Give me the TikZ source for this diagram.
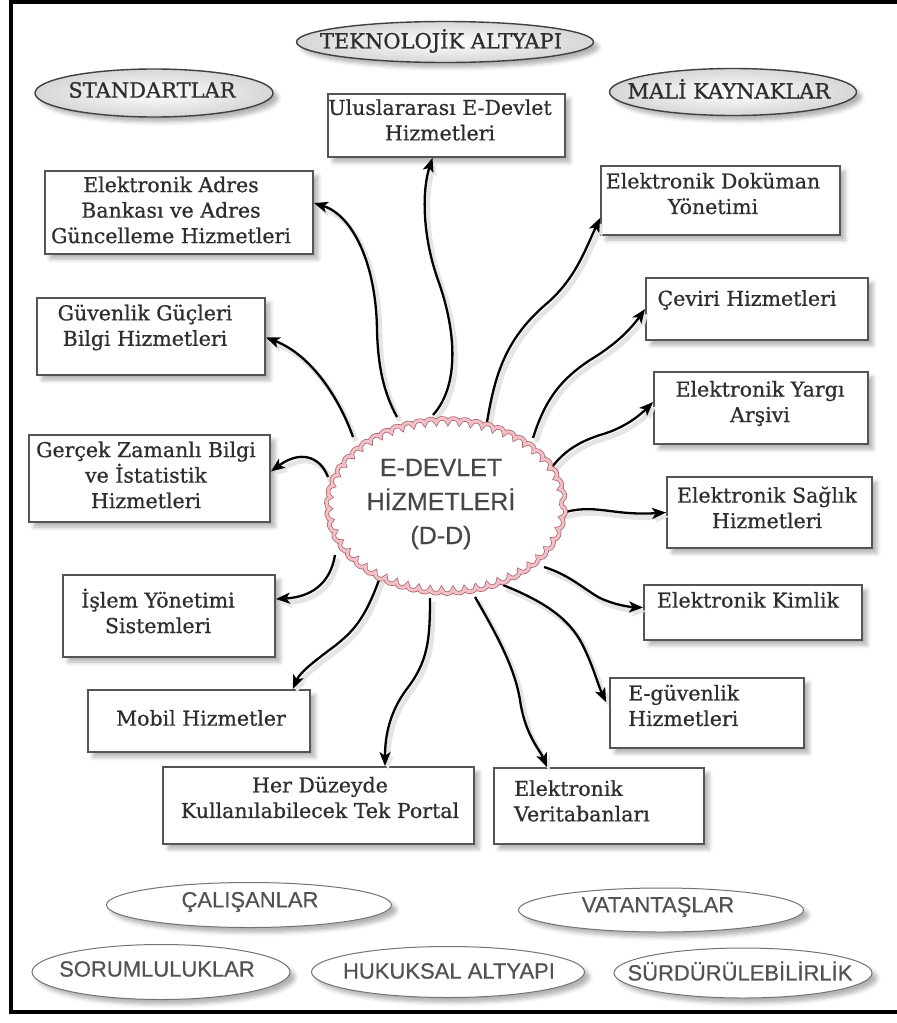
\documentclass[tikz,border=0pt]{standalone}
\usepackage{fontspec}
\setmainfont{DejaVu Serif}
\newfontfamily\boxserif{DejaVu Serif}[FakeBold=0.7]
\newfontfamily\ovalserif{DejaVu Serif}[FakeBold=0.9]
\newfontfamily\ovalsans{Liberation Sans}[FakeBold=0.5]
\usetikzlibrary{shapes.geometric,arrows.meta,calc,decorations.pathmorphing,shadows.blur}

\definecolor{boxline}{HTML}{555555}
\definecolor{textdark}{HTML}{2E2E2E}
\definecolor{cloudrim}{HTML}{A85A64}
\definecolor{cloudband}{HTML}{F0C0C6}

\tikzset{
  softshadow/.style={blur shadow={shadow blur radius=4pt, shadow xshift=5pt, shadow yshift=-5pt, shadow opacity=30}},
  svcbox/.style={draw=boxline, line width=1.8pt, fill=white, softshadow},
  svctext/.style={font=\boxserif\fontsize{20.5}{25.5}\selectfont, text=textdark, align=center, inner sep=0pt},
  topoval/.style={ellipse, draw=black!75, line width=1.4pt, inner color=white, outer color=gray!32, softshadow},
  toptext/.style={font=\ovalserif\fontsize{21}{25}\selectfont, text=textdark, inner sep=0pt},
  lowoval/.style={ellipse, draw=black!55, line width=1pt, fill=white, softshadow},
  lowtext/.style={font=\ovalsans\fontsize{22}{26}\selectfont, text=black!68, inner sep=0pt},
  cloudtext/.style={font=\ovalsans\fontsize{25}{34}\selectfont, text=black!72, align=center, inner sep=0pt},
  cloudedge/.style={decorate, decoration={bumps, segment length=23pt, amplitude=4.5pt},
    draw=cloudrim, double=cloudband, double distance=3pt, line width=0.7pt, fill=white},
  link/.style={line width=2.3pt, black, -{Stealth[length=14pt,width=11pt,inset=3.5pt]},
    preaction={draw=black!10, line width=5pt, transform canvas={shift={(3pt,-4pt)}}}},
}

\begin{document}
\begin{tikzpicture}[x=1pt,y=-1pt]
\useasboundingbox (0,0) rectangle (897,1023);

% outer frame, open on the right
\draw[line width=4pt] (897,1.5) -- (10.5,1.5) -- (10.5,1012) -- (897,1012);

% top ovals
\node[topoval, minimum width=297pt, minimum height=41pt] (tekno) at (445,42) {};
\node[toptext] (tekno-t) at (441,41) {TEKNOLOJİK ALTYAPI};
\node[topoval, minimum width=238pt, minimum height=48pt] (stand) at (154,93) {};
\node[toptext] (stand-t) at (152,90) {STANDARTLAR};
\node[topoval, minimum width=247pt, minimum height=47pt] (mali) at (733,92) {};
\node[toptext] (mali-t) at (729,89) {MALİ KAYNAKLAR};

% bottom ovals
\node[lowoval, minimum width=285pt, minimum height=45pt] (calis) at (249,905) {};
\node[lowtext] (calis-t) at (250,902) {ÇALIŞANLAR};
\node[lowoval, minimum width=258pt, minimum height=55pt] (sorum) at (161,972) {};
\node[lowtext] (sorum-t) at (157,969) {SORUMLULUKLAR};
\node[lowoval, minimum width=273pt, minimum height=51pt] (hukuk) at (448,972) {};
\node[lowtext] (hukuk-t) at (449,971) {HUKUKSAL ALTYAPI};
\node[lowoval, minimum width=285pt, minimum height=44pt] (vatan) at (661,910) {};
\node[lowtext] (vatan-t) at (658,907) {VATANTAŞLAR};
\node[lowoval, minimum width=258pt, minimum height=50pt] (surdur) at (743,973) {};
\node[lowtext] (surdur-t) at (740,971) {SÜRDÜRÜLEBİLİRLİK};

% service boxes
\node[svcbox, minimum width=237pt, minimum height=63pt] (ulus) at (446.5,125.5) {};
\node[svctext] (ulus-t) at (440,120) {Uluslararası E-Devlet\\Hizmetleri};
\node[svcbox, minimum width=268pt, minimum height=83pt] (adres) at (179,212.5) {};
\node[svctext] (adres-t) at (171,210) {Elektronik Adres\\Bankası ve Adres\\Güncelleme Hizmetleri};
\node[svcbox, minimum width=228pt, minimum height=77pt] (guven) at (151,336.5) {};
\node[svctext] (guven-t) at (145,327.5) {Güvenlik Güçleri\\Bilgi Hizmetleri};
\node[svcbox, minimum width=241pt, minimum height=87pt] (gercek) at (149.5,478.5) {};
\node[svctext] (gercek-t) at (146,475) {Gerçek Zamanlı Bilgi\\ve İstatistik\\Hizmetleri};
\node[svcbox, minimum width=212pt, minimum height=82pt] (islem) at (169,616) {};
\node[svctext] (islem-t) at (158,611) {İşlem Yönetimi\\Sistemleri};
\node[svcbox, minimum width=222pt, minimum height=62pt] (mobil) at (199,721) {};
\node[svctext] (mobil-t) at (201,718) {Mobil Hizmetler};
\node[svcbox, minimum width=311pt, minimum height=77pt] (portal) at (318.5,805.5) {};
\node[svctext] (portal-t) at (320,797.5) {Her Düzeyde\\Kullanılabilecek Tek Portal};
\node[svcbox, minimum width=210pt, minimum height=76pt] (veri) at (599,806) {};
\node[svctext, align=left, anchor=west] (veri-t) at (514,801) {Elektronik\\Veritabanları};
\node[svcbox, minimum width=194pt, minimum height=70pt] (eguv) at (707,713) {};
\node[svctext, align=left, anchor=west] (eguv-t) at (628,705.5) {E-güvenlik\\Hizmetleri};
\node[svcbox, minimum width=218pt, minimum height=55pt] (kimlik) at (753,612.5) {};
\node[svctext] (kimlik-t) at (748,600) {Elektronik Kimlik};
\node[svcbox, minimum width=205pt, minimum height=71pt] (saglik) at (769.5,512.5) {};
\node[svctext] (saglik-t) at (767,507.5) {Elektronik Sağlık\\Hizmetleri};
\node[svcbox, minimum width=214pt, minimum height=72pt] (yargi) at (761,408) {};
\node[svctext] (yargi-t) at (760,403.5) {Elektronik Yargı\\Arşivi};
\node[svcbox, minimum width=222pt, minimum height=62pt] (ceviri) at (757,309) {};
\node[svctext] (ceviri-t) at (747,300) {Çeviri Hizmetleri};
\node[svcbox, minimum width=239pt, minimum height=69pt] (dokuman) at (720.5,200.5) {};
\node[svctext] (dokuman-t) at (713,193.5) {Elektronik Doküman\\Yönetimi};

% central hub (shape only, outline drawn after the links)
\node[ellipse, minimum width=244pt, minimum height=180pt, inner sep=0pt] (cloud) at (446,506) {};

% links from the hub to the services
\draw[link] ($(cloud.center)+(-13,-91)$) .. controls (460,385) and (456,330) .. (438,280)
  .. controls (422,235) and (422,190) .. ($(ulus.south)+(-14,0)$);
\draw[link] ($(cloud.center)+(-49,-89)$) .. controls (385,395) and (378,370) .. (377,330)
  .. controls (376,262) and (352,215) .. ($(adres.east)+(0,-9.5)$);
\draw[link] ($(cloud.center)+(-93,-69)$) .. controls (340,400) and (312,355) .. ($(guven.east)+(0,1)$);
\draw[link] ($(cloud.center)+(-118,-29)$) .. controls (320,456) and (300,450) .. ($(gercek.east)+(0,-7)$);
\draw[link] ($(cloud.center)+(-111,49)$) .. controls (330,585) and (310,597) .. ($(islem.east)+(0,-17)$);
\draw[link] ($(cloud.center)+(-66,71)$) .. controls (365,620) and (352,632) .. (336,645)
  .. controls (316,660) and (300,672) .. ($(mobil.north east)+(-18,0)$);
\draw[link] ($(cloud.center)+(-16,92)$) .. controls (430,640) and (428,662) .. (406,690)
  .. controls (390,712) and (385,735) .. ($(portal.north)+(66.5,0)$);
\draw[link] ($(cloud.center)+(29,91)$) .. controls (500,640) and (515,670) .. (520,700)
  .. controls (525,735) and (540,750) .. ($(veri.north)+(-52,0)$);
\draw[link] ($(cloud.center)+(57,79)$) .. controls (540,600) and (565,615) .. (580,640)
  .. controls (592,662) and (598,685) .. ($(eguv.north west)+(-3,25)$);
\draw[link] ($(cloud.center)+(98,61)$) .. controls (570,575) and (585,590) .. (600,598)
  .. controls (615,605) and (630,607) .. ($(kimlik.west)+(0,-5)$);
\draw[link] ($(cloud.center)+(116,7)$) .. controls (595,503) and (612,516) .. (saglik.west);
\draw[link] ($(cloud.center)+(104,-36)$) .. controls (565,448) and (585,440) .. (600,435)
  .. controls (625,428) and (640,415) .. ($(yargi.west)+(0,-6)$);
\draw[link] ($(cloud.center)+(87,-68)$) .. controls (545,400) and (560,380) .. (590,360)
  .. controls (615,345) and (630,330) .. (ceviri.west);
\draw[link] ($(cloud.center)+(41,-84)$) .. controls (495,375) and (505,340) .. (545,305)
  .. controls (575,280) and (585,250) .. ($(dokuman.west)+(0,17.5)$);

% hub outline and title
\path[cloudedge] (cloud.center) ellipse [x radius=115, y radius=83];
\node[cloudtext] (cloud-t) at (441,504) {E-DEVLET\\HİZMETLERİ\\(D-D)};
\end{tikzpicture}
\end{document}
